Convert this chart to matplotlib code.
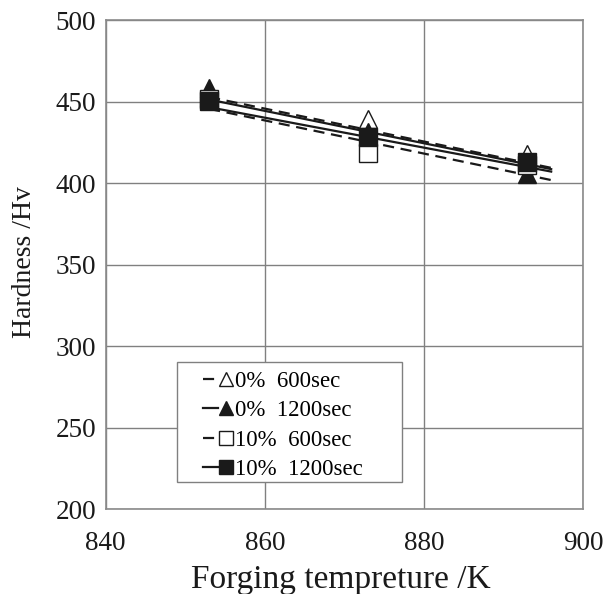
import matplotlib
matplotlib.use('Agg')
import matplotlib.pyplot as plt
from matplotlib.patches import Rectangle
from matplotlib.legend_handler import HandlerTuple

# ---- data ----
temps = [853, 873, 893]
tri_600 = [453.0, 439.5, 418.0]     # 0% 600sec (open triangle)
tri_1200 = [458.5, 431.0, 405.5]    # 0% 1200sec (filled triangle)
sq_600 = [451.5, 418.5, 411.0]      # 10% 600sec (open square)
sq_1200 = [450.5, 428.5, 413.0]     # 10% 1200sec (filled square)

# linear trend lines (value at start and end temperature)
trend_x = [853, 896]
trend_tri_600 = [452.7, 409.3]
trend_tri_1200 = [446.5, 407.0]
trend_sq_600 = [445.5, 401.8]
trend_sq_1200 = [451.2, 408.5]

labels = ['0%  600sec', '0%  1200sec', '10%  600sec', '10%  1200sec']
xticks = [840, 860, 880, 900]
yticks = [200, 250, 300, 350, 400, 450, 500]

FONT = 'Liberation Serif'
plt.rcParams['font.family'] = [FONT, 'DejaVu Serif']

W, H = 603, 594
fig = plt.figure(figsize=(W / 100, H / 100), dpi=100)
L, R, T, B = 105.7, 583, 20, 509
ax = fig.add_axes([L / W, 1 - B / H, (R - L) / W, (B - T) / H])

ax.set_xlim(840, 900)
ax.set_ylim(200, 500)
ax.set_xticks(xticks)
ax.set_yticks(yticks)
ax.grid(True, color='#808080', linewidth=1.0)
ax.set_axisbelow(True)
for s in ax.spines.values():
    s.set_color('#8a8a8a')
    s.set_linewidth(1.2)
ax.tick_params(length=0, labelsize=19.5, colors='#1a1a1a')
ax.tick_params(axis='x', pad=16)
ax.tick_params(axis='y', pad=7)

dash = (0, (5, 3))
lw = 1.6
l1, = ax.plot(trend_x, trend_tri_600, color='#1a1a1a', lw=lw, linestyle=dash, zorder=3)
l2, = ax.plot(trend_x, trend_tri_1200, color='#1a1a1a', lw=lw, zorder=3)
l3, = ax.plot(trend_x, trend_sq_600, color='#1a1a1a', lw=lw, linestyle=dash, zorder=3)
l4, = ax.plot(trend_x, trend_sq_1200, color='#1a1a1a', lw=lw, zorder=3)

ms = 12.5
m1, = ax.plot(temps, tri_600, linestyle='none', marker='^', ms=ms, mfc='white',
              mec='#1a1a1a', mew=1.0, zorder=4)
m2, = ax.plot(temps, tri_1200, linestyle='none', marker='^', ms=ms, mfc='#1a1a1a',
              mec='#1a1a1a', mew=1.0, zorder=5)
m3, = ax.plot(temps, sq_600, linestyle='none', marker='s', ms=ms, mfc='white',
              mec='#1a1a1a', mew=1.0, zorder=6)
m4, = ax.plot(temps, sq_1200, linestyle='none', marker='s', ms=ms, mfc='#1a1a1a',
              mec='#1a1a1a', mew=1.0, zorder=7)

# legend box
rect = Rectangle((0.149, 0.055), 0.472, 0.245, transform=ax.transAxes,
                 facecolor='white', edgecolor='#808080', linewidth=1.0, zorder=2.5)
ax.add_patch(rect)
leg = ax.legend(handles=[(l1, m1), (l2, m2), (l3, m3), (l4, m4)], labels=labels,
                handler_map={tuple: HandlerTuple(ndivide=None)},
                loc='upper left', bbox_to_anchor=(0.203, 0.283), borderaxespad=0,
                borderpad=0, frameon=False, handlelength=1.35, handletextpad=0.05,
                labelspacing=0.37, markerscale=0.82,
                prop={'family': FONT, 'size': 16.5})
leg.set_zorder(8)

fig.text(341 / W, 1 - 588 / H, 'Forging tempreture /K', ha='center', va='baseline',
         fontsize=24, color='#1a1a1a')
fig.text(25 / W, 1 - 262 / H, 'Hardness /Hv', ha='center', va='center', rotation=90,
         fontsize=20, color='#1a1a1a')

fig.savefig('out.png', dpi=100, facecolor='white')
